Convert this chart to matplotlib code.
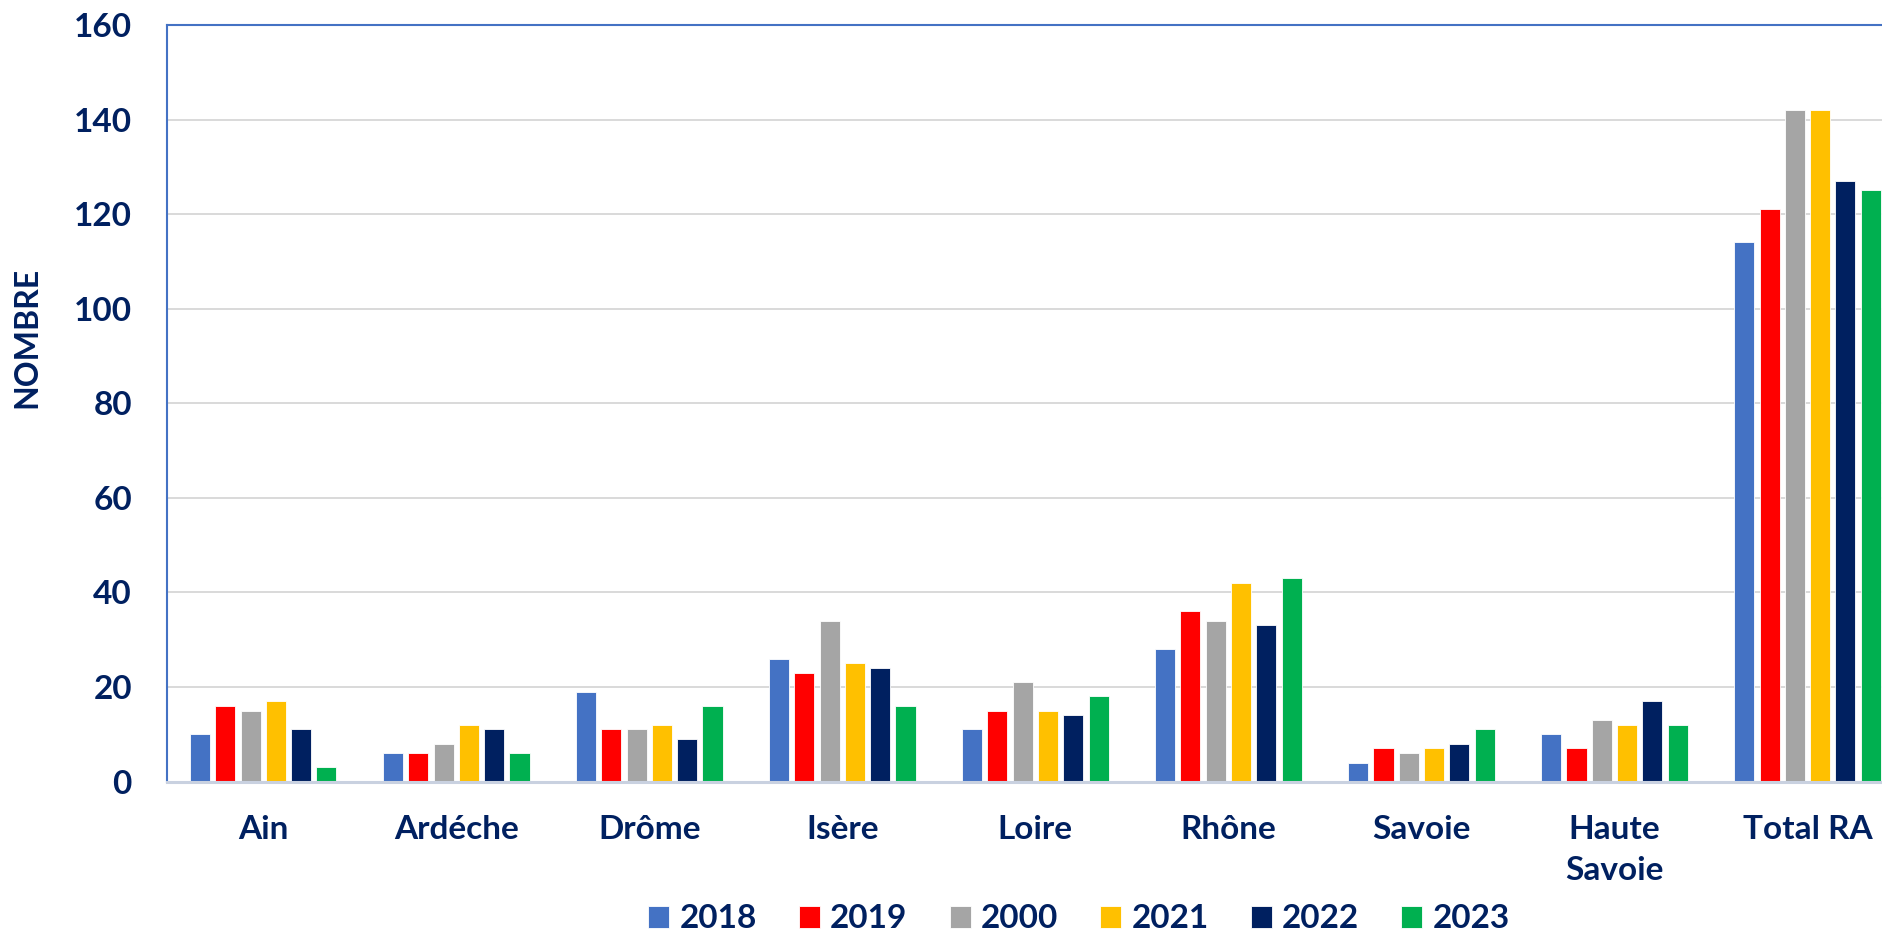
import matplotlib
matplotlib.use("Agg")
import matplotlib.pyplot as plt
import numpy as np

plt.rcParams['font.family'] = ['Lato', 'DejaVu Sans']
plt.rcParams['font.weight'] = 'bold'

categories = ['Ain', 'Ardéche', 'Drôme', 'Isère', 'Loire', 'Rhône', 'Savoie',
              'Haute\nSavoie', 'Total RA']
years = ['2018', '2019', '2000', '2021', '2022', '2023']
v2018 = [10, 6, 19, 26, 11, 28, 4, 10, 114]
v2019 = [16, 6, 11, 23, 15, 36, 7, 7, 121]
v2000 = [15, 8, 11, 34, 21, 34, 6, 13, 142]
v2021 = [17, 12, 12, 25, 15, 42, 7, 12, 142]
v2022 = [11, 11, 9, 24, 14, 33, 8, 17, 127]
v2023 = [3, 6, 16, 16, 18, 43, 11, 12, 125]
series = [v2018, v2019, v2000, v2021, v2022, v2023]
colors = ['#4472C4', '#FF0000', '#A5A5A5', '#FFC000', '#002060', '#00B050']
ticks = [0, 20, 40, 60, 80, 100, 120, 140, 160]

navy = '#002060'
W, H = 1883, 933
fig = plt.figure(figsize=(W / 100, H / 100), dpi=100)
# plot area runs a little past the right edge, like the original crop
ax = fig.add_axes([166.7 / W, (H - 781.5) / H, (1904 - 166.7) / W, (781.5 - 25) / H])

x = np.arange(len(categories))
step = 0.131
bw = 0.104
bars = []
for i, (vals, col) in enumerate(zip(series, colors)):
    b = ax.bar(x + (i - 2.5) * step, vals, width=bw, color=col,
               edgecolor='white', linewidth=0.6, zorder=3, label=years[i])
    bars.append(b)

ax.set_xlim(-0.5, len(categories) - 0.5)
ax.set_ylim(0, 160)
ax.set_yticks(ticks)
ax.set_xticks(x)
ax.set_xticklabels(categories, linespacing=1.5)
ax.tick_params(axis='both', length=0, labelsize=24, labelcolor=navy)
ax.tick_params(axis='x', pad=24)
ax.tick_params(axis='y', pad=25)
ax.grid(axis='y', color='#D9D9D9', linewidth=1.4, zorder=0)

for s in ['left', 'top']:
    ax.spines[s].set_color('#4472C4')
    ax.spines[s].set_linewidth(1.5)
ax.spines['right'].set_visible(False)
ax.spines['bottom'].set_color('#C9D1E0')
ax.spines['bottom'].set_linewidth(2.2)
ax.spines['bottom'].set_zorder(4)

fig.text(27 / W, 1 - 337.5 / H, 'NOMBRE', rotation=90, ha='center', va='center',
         fontsize=23, color=navy, fontweight='bold')

leg = fig.legend(handles=bars, labels=years, loc='center', ncol=6,
                 bbox_to_anchor=(1079 / W, 1 - 919 / H), frameon=False,
                 fontsize=24, handlelength=0.63, handleheight=0.63,
                 handletextpad=0.3, columnspacing=1.27, borderpad=0,
                 borderaxespad=0)
for t in leg.get_texts():
    t.set_color(navy)

fig.savefig('out.png', dpi=100)
